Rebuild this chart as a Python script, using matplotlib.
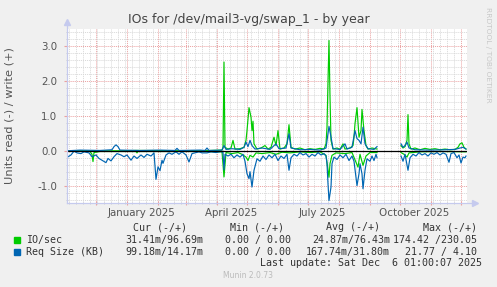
import numpy as np
import matplotlib
matplotlib.use("Agg")
import matplotlib.pyplot as plt
import matplotlib.dates as mdates

# first day on the left edge of the graph (munin "by year" = 400 days)
START = np.datetime64("2024-11-02")
SPAN_DAYS = 400
nan = float("nan")

# IO/sec write (+), day offset from START
io_write_day = [0, 53, 69, 133, 155, 156, 157, 158, 161, 164, 166, 168, 173, 177, 179, 180, 182, 184,
                185, 186, 187, 190, 194, 198, 201, 204, 207, 209, 211, 213, 217, 220, 222, 224, 228,
                233, 238, 243, 248, 253, 257, 259, 260, 261, 262, 263, 264, 266, 270, 273, 276, 278,
                283, 286, 287, 288, 290, 292, 294, 295, 297, 299, 301, 305, 310, 311, 334, 336, 338,
                340, 341, 342, 344, 348, 353, 358, 363, 368, 373, 378, 383, 388, 391, 393, 395, 397, 399]
io_write = [0.0, 0.0, 0.01, 0.0, 0.02, 0.10, 2.55, 0.10, 0.05, 0.08, 0.30, 0.05, 0.06, 0.10, 0.30, 0.58,
            1.24, 0.97, 0.58, 0.85, 0.20, 0.05, 0.08, 0.15, 0.05, 0.10, 0.39, 0.15, 0.58, 0.05, 0.08,
            0.20, 0.75, 0.10, 0.05, 0.08, 0.03, 0.06, 0.04, 0.07, 0.05, 0.20, 0.68, 2.00, 3.17, 1.54,
            0.30, 0.05, 0.08, 0.04, 0.20, 0.05, 0.08, 0.15, 0.39, 0.78, 1.24, 0.39, 0.58, 1.19, 0.58,
            0.15, 0.05, 0.08, 0.05, nan, 0.15, 0.08, 0.12, 0.30, 1.04, 0.20, 0.05, 0.08, 0.03, 0.07,
            0.04, 0.06, 0.03, 0.05, 0.03, 0.04, 0.10, 0.20, 0.23, 0.10, 0.05]

# IO/sec read (-)
io_read_day = [0, 23, 25, 26, 27, 33, 69, 70, 71, 133, 155, 157, 159, 165, 171, 175, 179, 181, 183, 186,
               189, 195, 203, 209, 215, 223, 233, 243, 253, 259, 262, 263, 265, 269, 278, 285, 289, 291,
               293, 296, 299, 303, 310, 311, 334, 337, 340, 342, 353, 373, 399]
io_read = [0.0, -0.02, -0.10, -0.31, -0.05, -0.02, -0.02, -0.06, -0.02, -0.02, -0.03, -0.75, -0.05,
           -0.08, -0.05, -0.10, -0.18, -0.28, -0.13, -0.18, -0.06, -0.08, -0.05, -0.10, -0.04, -0.06,
           -0.03, -0.05, -0.03, -0.13, -0.76, -0.37, -0.13, -0.06, -0.08, -0.05, -0.33, -0.47, -0.10,
           -0.42, -0.15, -0.05, -0.05, nan, -0.05, -0.10, -0.18, -0.06, -0.03, -0.02, -0.03]

# Req Size (KB) write (+)
rq_write_day = [0, 13, 33, 45, 47, 49, 51, 53, 73, 93, 108, 110, 112, 133, 138, 140, 142, 155, 157, 159,
                165, 173, 177, 179, 181, 183, 185, 188, 195, 203, 209, 212, 219, 222, 224, 233, 243, 253,
                259, 261, 262, 264, 266, 273, 278, 280, 285, 288, 290, 292, 294, 296, 298, 301, 307, 310,
                311, 334, 336, 338, 340, 342, 348, 363, 378, 388, 393, 396, 399]
rq_write = [0.0, 0.02, 0.01, 0.03, 0.12, 0.17, 0.12, 0.02, 0.01, 0.02, 0.01, 0.07, 0.01, 0.02, 0.01, 0.08,
            0.01, 0.02, 0.15, 0.04, 0.06, 0.04, 0.10, 0.25, 0.12, 0.30, 0.15, 0.05, 0.08, 0.04, 0.20,
            0.06, 0.08, 0.49, 0.08, 0.03, 0.04, 0.02, 0.08, 0.50, 0.70, 0.40, 0.06, 0.04, 0.20, 0.05,
            0.10, 0.58, 0.35, 0.30, 0.20, 0.68, 0.20, 0.06, 0.04, 0.12, nan, 0.20, 0.10, 0.15, 0.25,
            0.08, 0.03, 0.02, 0.03, 0.04, 0.08, 0.10, 0.05]

# Req Size (KB) read (-)
rq_read_day = [0, 4, 7, 10, 14, 17, 22, 25, 29, 32, 35, 39, 41, 44, 47, 50, 54, 57, 60, 64, 67, 70, 74, 77,
               80, 84, 87, 89, 91, 93, 95, 96, 99, 102, 105, 109, 112, 115, 119, 122, 125, 129, 132, 135,
               140, 144, 149, 154, 156, 157, 158, 161, 164, 167, 170, 173, 176, 178, 180, 182, 183, 185,
               187, 190, 193, 196, 199, 202, 205, 208, 211, 214, 217, 220, 222, 224, 227, 230, 233, 236,
               239, 242, 245, 248, 251, 254, 257, 259, 260, 261, 262, 264, 265, 267, 270, 273, 276, 279,
               282, 285, 287, 289, 290, 292, 293, 295, 296, 298, 300, 303, 305, 307, 309, 310, 311, 334,
               336, 338, 339, 341, 343, 346, 349, 352, 355, 358, 361, 364, 367, 370, 373, 376, 379, 382,
               384, 387, 390, 392, 394, 396, 398, 399]
rq_read = [-0.19, -0.12, -0.01, -0.06, -0.08, -0.03, -0.06, -0.17, -0.12, -0.22, -0.27, -0.34, -0.22,
           -0.29, -0.17, -0.08, -0.12, -0.17, -0.12, -0.27, -0.15, -0.22, -0.12, -0.19, -0.10, -0.15,
           -0.06, -0.82, -0.46, -0.57, -0.27, -0.36, -0.12, -0.06, -0.10, -0.03, -0.10, -0.03, -0.12,
           -0.32, -0.08, -0.05, -0.03, -0.06, -0.06, -0.03, -0.05, -0.02, -0.05, -0.55, -0.10, -0.15,
           -0.10, -0.20, -0.12, -0.18, -0.10, -0.30, -0.66, -0.80, -0.60, -1.04, -0.56, -0.23, -0.30,
           -0.15, -0.25, -0.12, -0.20, -0.10, -0.28, -0.15, -0.22, -0.10, -0.56, -0.20, -0.10, -0.15,
           -0.05, -0.12, -0.08, -0.18, -0.10, -0.15, -0.05, -0.12, -0.08, -0.15, -0.37, -0.95, -1.43,
           -1.04, -0.37, -0.18, -0.25, -0.12, -0.20, -0.10, -0.28, -0.15, -0.30, -0.76, -1.00, -0.66,
           -0.37, -0.66, -1.09, -0.56, -0.23, -0.30, -0.15, -0.28, -0.10, -0.20, nan, -0.15, -0.30,
           -0.10, -0.25, -0.56, -0.20, -0.10, -0.15, -0.05, -0.12, -0.08, -0.15, -0.06, -0.10, -0.05,
           -0.12, -0.06, -0.10, -0.33, -0.08, -0.05, -0.20, -0.12, -0.35, -0.18, -0.20, -0.15]

legend_rows = [
    ("IO/sec", "#00CC00", "31.41m/96.69m", "0.00 / 0.00", "24.87m/76.43m", "174.42 /230.05"),
    ("Req Size (KB)", "#0066B3", "99.18m/14.17m", "0.00 / 0.00", "167.74m/31.80m", "21.77 / 4.10"),
]
x_labels = ["January 2025", "April 2025", "July 2025", "October 2025"]
label_days = [np.datetime64("2025-01-15"), np.datetime64("2025-04-15"),
              np.datetime64("2025-07-15"), np.datetime64("2025-10-15")]


def dates(days):
    return START + np.array(days, dtype="timedelta64[D]")


W, H = 497, 287
fig = plt.figure(figsize=(W / 100, H / 100), dpi=100, facecolor="#F0F0F0")
ax = fig.add_axes([67 / W, 1 - 203 / H, 400 / W, 174 / H])
ax.set_facecolor("white")

lw = 0.85
ax.plot(dates(io_read_day), io_read, color="#00CC00", lw=lw, zorder=3)
ax.plot(dates(io_write_day), io_write, color="#00CC00", lw=lw, zorder=3)
ax.plot(dates(rq_read_day), rq_read, color="#0066B3", lw=lw, zorder=4)
ax.plot(dates(rq_write_day), rq_write, color="#0066B3", lw=lw, zorder=4)
ax.axhline(0, color="black", lw=0.9, zorder=5)

ax.set_xlim(START, START + np.timedelta64(SPAN_DAYS, "D"))
ax.set_ylim(-1.5, 3.5)

# grid: red dotted majors, grey dotted minors
ax.xaxis.set_major_locator(mdates.MonthLocator())
ax.xaxis.set_minor_locator(mdates.WeekdayLocator(byweekday=mdates.MO))
ax.yaxis.set_major_locator(plt.MultipleLocator(1.0))
ax.yaxis.set_minor_locator(plt.MultipleLocator(0.2))
ax.grid(which="minor", color="#D8D8D8", lw=0.7, ls=(0, (1, 1)), zorder=1)
ax.grid(which="major", color="#EBA0A0", lw=0.7, ls=(0, (1, 1)), zorder=2)
ax.set_axisbelow(True)

ax.xaxis.set_major_formatter(plt.NullFormatter())
ax.set_yticks([-1, 0, 1, 2, 3])
ax.set_yticklabels(["-1.0", "0.0", "1.0", "2.0", "3.0"])
ax.tick_params(axis="y", which="major", length=2, color="#EBA0A0", pad=5,
               labelsize=7.4, labelcolor="#555555")
ax.tick_params(axis="x", which="major", length=3, direction="inout", color="#EBA0A0")
ax.tick_params(which="minor", length=2, direction="inout", color="#C8C8C8")

for s in ax.spines.values():
    s.set_visible(False)

# axes with arrows, like rrdtool
axis_col = "#C5CAEE"
ax.plot([0, 0], [0, 1.03], transform=ax.transAxes, color=axis_col, lw=0.9, clip_on=False, zorder=6)
ax.plot([0, 1.015], [0, 0], transform=ax.transAxes, color=axis_col, lw=0.9, clip_on=False, zorder=6)
ax.plot([0], [1.04], transform=ax.transAxes, marker="^", ms=4, color=axis_col, clip_on=False, zorder=6)
ax.plot([1.02], [0], transform=ax.transAxes, marker=">", ms=4, color=axis_col, clip_on=False, zorder=6)

for lbl, d in zip(x_labels, label_days):
    ax.text(d, -1.5 - 9.5 / 34.8, lbl, ha="center", va="center", fontsize=7.4, color="#555555")

fig.text(248.5 / W, 1 - 20 / H, "IOs for /dev/mail3-vg/swap_1 - by year", ha="center", va="center",
         fontsize=9.0, color="#444444")
fig.text(10 / W, 1 - 116 / H, "Units read (-) / write (+)", rotation=90, ha="center", va="center",
         fontsize=8.2, color="#555555")
fig.text(488 / W, 1 - 55 / H, "RRDTOOL / TOBI OETIKER", rotation=270, ha="center", va="center",
         fontsize=5.4, color="#C8C8C8")

mono = dict(family="DejaVu Sans Mono", fontsize=7.2, color="#333333", va="center")
for txt, x in zip(["Cur (-/+)", "Min (-/+)", "Avg (-/+)", "Max (-/+)"], [187, 284, 380, 477]):
    fig.text(x / W, 1 - 227 / H, txt, ha="right", **mono)
for i, (name, col, cur, mn, avg, mx) in enumerate(legend_rows):
    yy = 240 + 12 * i
    fig.patches.append(plt.Rectangle((14 / W, 1 - (yy + 3) / H), 6 / W, 6 / H,
                                     transform=fig.transFigure, color=col))
    fig.text(26 / W, 1 - yy / H, name, ha="left", **mono)
    for val, x in zip([cur, mn, avg, mx], [203, 291, 390, 477]):
        fig.text(x / W, 1 - yy / H, val, ha="right", **mono)
fig.text(482 / W, 1 - 263 / H, "Last update: Sat Dec  6 01:00:07 2025", ha="right", **mono)
fig.text(248 / W, 1 - 276 / H, "Munin 2.0.73", ha="center", va="center", fontsize=5.5, color="#BBBBBB")

fig.savefig("out.png", dpi=100, facecolor=fig.get_facecolor())
